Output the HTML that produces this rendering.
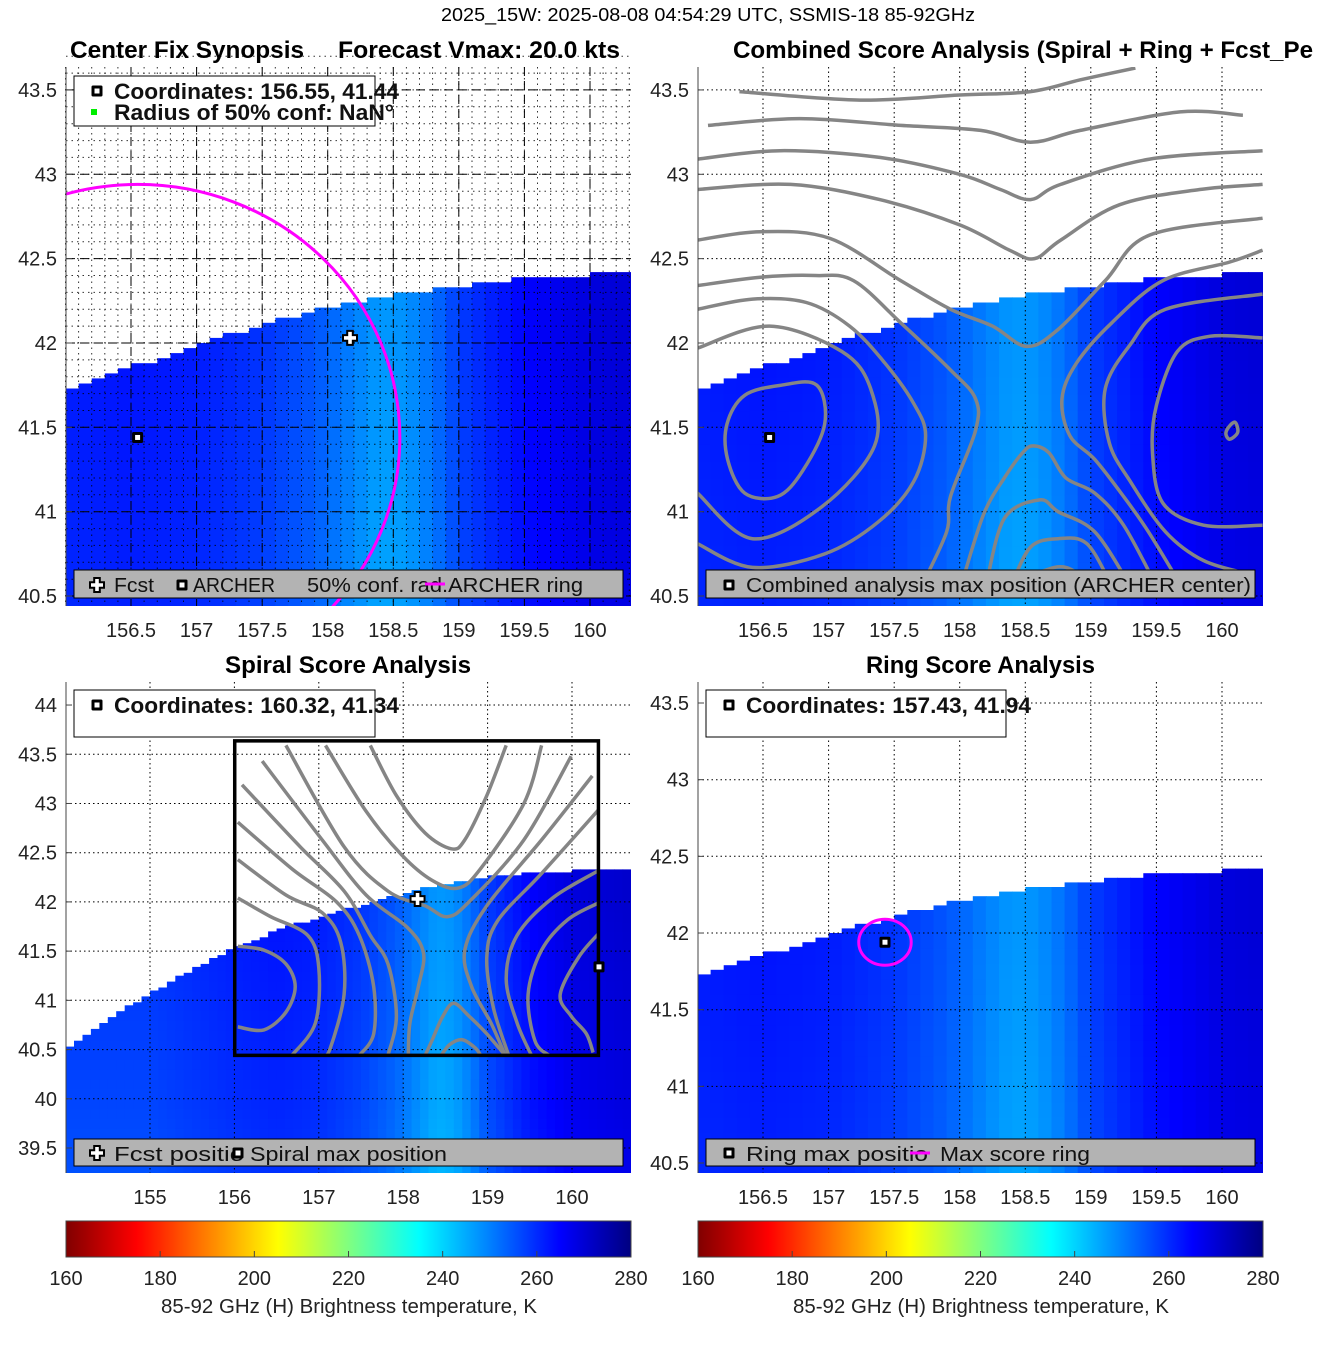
<!DOCTYPE html>
<html><head><meta charset="utf-8"><style>
html,body{margin:0;padding:0;background:#fff;}
svg{display:block;font-family:"Liberation Sans",sans-serif;}
</style></head><body>
<svg id="fig" xmlns="http://www.w3.org/2000/svg" width="1317" height="1350" viewBox="0 0 1317 1350">
<defs>
<clipPath id="clip1"><rect x="66" y="67" width="565" height="539"/></clipPath>
<clipPath id="clip2"><rect x="698" y="67" width="565" height="539"/></clipPath>
<clipPath id="clip3"><rect x="66" y="682" width="565" height="491"/></clipPath>
<clipPath id="clip4"><rect x="698" y="682" width="565" height="491"/></clipPath>
<clipPath id="clip3box"><rect x="235" y="741" width="364" height="314"/></clipPath>
<linearGradient id="cbgrad" x1="0" x2="1" y1="0" y2="0"></linearGradient>
</defs>
<rect width="1317" height="1350" fill="#fff"/>
<text x="708" y="21" text-anchor="middle" font-size="18" textLength="534" lengthAdjust="spacingAndGlyphs">2025_15W: 2025-08-08 04:54:29 UTC, SSMIS-18 85-92GHz</text>
<text x="70" y="58" font-size="24" font-weight="bold" textLength="234" lengthAdjust="spacingAndGlyphs">Center Fix Synopsis</text>
<text x="338" y="58" font-size="24" font-weight="bold" textLength="282" lengthAdjust="spacingAndGlyphs">Forecast Vmax: 20.0 kts</text>
<text x="733" y="58" font-size="24" font-weight="bold" textLength="580" lengthAdjust="spacingAndGlyphs">Combined Score Analysis (Spiral + Ring + Fcst_Pe</text>
<text x="225" y="673" font-size="24" font-weight="bold" textLength="246" lengthAdjust="spacingAndGlyphs">Spiral Score Analysis</text>
<text x="866" y="673" font-size="24" font-weight="bold" textLength="229" lengthAdjust="spacingAndGlyphs">Ring Score Analysis</text>
<g id="layer"></g>
</svg>
<script>
// ---------- data ----------
const tempLon = [154, 155, 156, 156.5, 157, 157.5, 157.9, 158.2, 158.4, 158.6, 158.8, 159, 159.5, 160, 160.7];
const tempVal = [258, 258, 261, 262, 261, 258, 254, 249, 246, 247, 251, 257, 264, 268, 270];
const latAdjLat = [39, 40, 41, 42, 43];
const latAdjVal = [-3, -1, 0, 1, 1];
const edgeLon = [154, 154.5, 155, 155.5, 156, 156.5, 157, 157.5, 158, 158.5, 159, 159.5, 160, 160.7];
const edgeLatA = [40.8, 41.05, 41.3, 41.52, 41.72, 41.87, 42.0, 42.12, 42.22, 42.3, 42.35, 42.4, 42.42, 42.43];
const edgeLatB = [40.5, 40.82, 41.08, 41.33, 41.55, 41.72, 41.86, 41.98, 42.1, 42.2, 42.27, 42.31, 42.33, 42.35];
const archer = [156.55, 41.44];
const fcst = [158.17, 42.03];
const spiralMax = [160.32, 41.34];
const ringMax = [157.43, 41.94];
const archerRingRadius = [2.0, 1.5];
const ringMaxRadius = [0.2, 0.15];
const cbTicks = [160, 180, 200, 220, 240, 260, 280];
const xTicksA = [156.5, 157, 157.5, 158, 158.5, 159, 159.5, 160];
const xTicksB = [155, 156, 157, 158, 159, 160];
const yTicksA = [40.5, 41, 41.5, 42, 42.5, 43, 43.5];
const yTicksB = [39.5, 40, 40.5, 41, 41.5, 42, 42.5, 43, 43.5, 44];

// combined-score contours (lon,lat)
const combC1 = [[156.225,41.52],[156.36,41.69],[156.64,41.75],[156.91,41.75],[156.97,41.52],[156.80,41.24],[156.61,41.09],[156.36,41.11],[156.23,41.31]];
const combC2 = [[156.0,41.11],[156.42,40.84],[156.95,41.03],[157.35,41.39],[157.32,41.73],[157.10,41.95],[156.55,42.10],[156.0,41.97]];
const combC3 = [[156.0,40.81],[156.42,40.67],[156.97,40.75],[157.38,40.94],[157.65,41.18],[157.74,41.45],[157.65,41.64],[157.43,41.88],[157.16,42.10],[156.83,42.24],[156.42,42.26],[156.0,42.20]];
const combC4 = [[156.0,42.34],[156.48,42.39],[156.90,42.40],[157.19,42.37],[157.55,42.12],[157.93,41.84],[158.12,41.67],[158.12,41.48],[157.93,41.09],[157.90,40.88],[157.71,40.56]];
const combC5 = [[156.0,42.61],[156.48,42.66],[157.01,42.62],[157.55,42.37],[157.93,42.20],[158.25,42.10],[158.51,41.98],[158.75,42.08],[159.11,42.37],[159.45,42.64],[160.31,42.74]];
const combL4 = [[156.0,42.91],[156.71,42.94],[157.39,42.85],[158.0,42.70],[158.38,42.55],[158.57,42.50],[158.77,42.61],[159.22,42.82],[159.83,42.91],[160.31,42.94]];
const combL3 = [[156.0,43.09],[156.63,43.14],[157.39,43.10],[158.0,43.0],[158.31,42.91],[158.54,42.85],[158.77,42.94],[159.45,43.09],[160.31,43.14]];
const combL2 = [[156.08,43.29],[156.78,43.33],[157.55,43.29],[158.16,43.26],[158.54,43.19],[158.92,43.26],[159.68,43.37],[160.16,43.35]];
const combL1 = [[156.32,43.49],[157.24,43.44],[158.0,43.47],[158.54,43.49],[158.92,43.56],[159.34,43.63]];
const combA1 = [[158.01,40.56],[158.18,40.98],[158.34,41.20],[158.48,41.35],[158.56,41.39],[158.68,41.35],[158.81,41.20],[159.03,41.11],[159.25,40.92],[159.50,40.56]];
const combA2 = [[158.20,40.56],[158.34,40.96],[158.61,41.07],[158.75,41.0],[159.03,40.88],[159.30,40.56]];
const combA3 = [[158.39,40.56],[158.54,40.79],[158.75,40.84],[158.97,40.81],[159.16,40.56]];
const combA4 = [[158.42,40.56],[158.61,40.64],[158.81,40.67],[159.03,40.56]];
const combRa = [[160.31,42.55],[160.06,42.48],[159.55,42.37],[159.16,42.12],[158.89,41.88],[158.78,41.67],[158.84,41.45],[159.03,41.31],[159.25,41.09],[159.44,40.88],[159.69,40.56]];
const combRb = [[160.31,42.29],[159.57,42.20],[159.30,41.99],[159.11,41.73],[159.14,41.41],[159.30,41.18],[159.57,40.88],[159.86,40.71],[160.21,40.63]];
const combRc = [[160.31,42.03],[159.91,42.04],[159.66,41.95],[159.50,41.63],[159.47,41.35],[159.55,41.05],[159.86,40.92],[160.31,40.92]];
const combRd = [[160.05,41.50],[160.10,41.53],[160.12,41.47],[160.06,41.43],[160.03,41.46]];
const combOpen = [combC2, combC3, combC4, combC5, combL4, combL3, combL2, combL1, combA1, combA2, combA3, combA4, combRa, combRb, combRc];
const combClosed = [combC1, combRd];

// spiral-score contours (lon,lat)
const spS1 = [[157.61,43.59],[157.92,43.08],[158.26,42.70],[158.57,42.54],[158.73,42.63],[158.99,43.08],[159.22,43.59]];
const spS2 = [[157.08,43.59],[157.56,42.92],[157.99,42.47],[158.34,42.22],[158.65,42.14],[158.91,42.33],[159.43,43.0],[159.64,43.59]];
const spS3 = [[156.61,43.59],[157.30,42.56],[157.82,42.11],[158.26,41.96],[158.52,41.85],[158.78,42.0],[159.43,42.63],[159.99,43.48]];
const spS4 = [[156.33,43.43],[157.04,42.63],[157.56,42.07],[158.05,41.74],[158.24,41.48],[158.18,41.14],[158.08,40.77],[158.06,40.44]];
const spS5 = [[156.09,43.19],[156.78,42.56],[157.30,42.11],[157.61,41.66],[157.82,41.37],[157.92,40.84],[157.82,40.44]];
const spS6 = [[156.04,42.81],[156.69,42.33],[157.21,42.0],[157.48,41.66],[157.65,41.14],[157.65,40.66],[157.48,40.44]];
const spS7 = [[156.04,42.43],[156.61,42.07],[157.04,41.89],[157.26,41.59],[157.30,41.06],[157.13,40.50],[157.04,40.44]];
const spS8 = [[156.04,42.04],[156.43,41.85],[156.87,41.66],[157.0,41.33],[156.96,40.77],[156.68,40.44]];
const spS9 = [[156.04,41.55],[156.35,41.51],[156.61,41.37],[156.72,41.14],[156.61,40.88],[156.35,40.70],[156.04,40.73]];
const spS11 = [[158.26,40.44],[158.34,40.59],[158.47,40.84],[158.60,40.97],[158.78,40.84],[158.99,40.66],[159.21,40.44]];
const spS12 = [[158.45,40.44],[158.55,40.55],[158.7,40.6],[158.85,40.52],[158.92,40.44]];
const spS14 = [[160.24,43.28],[159.64,42.63],[158.99,41.96],[158.73,41.51],[158.81,41.14],[159.04,40.77],[159.21,40.44]];
const spS15 = [[160.34,42.96],[159.64,42.29],[159.12,41.81],[158.99,41.44],[159.07,40.92],[159.25,40.44]];
const spS16 = [[160.34,42.33],[159.77,42.04],[159.35,41.66],[159.22,41.22],[159.35,40.77],[159.52,40.44]];
const spS17 = [[160.34,42.0],[159.95,41.82],[159.64,41.51],[159.48,41.06],[159.56,40.59],[159.73,40.44]];
const spS18 = [[160.34,41.70],[160.08,41.44],[159.86,41.06],[159.99,40.84],[160.17,40.66],[160.25,40.47]];
const spiralOpen = [spS1, spS2, spS3, spS4, spS5, spS6, spS7, spS8, spS9, spS11, spS12, spS14, spS15, spS16, spS17, spS18];

// ---------- geometry ----------
const NS = 'http://www.w3.org/2000/svg';
const layer = document.getElementById('layer');
function mk(tag, attrs, parent) {
  const e = document.createElementNS(NS, tag);
  for (const k in attrs) e.setAttribute(k, attrs[k]);
  (parent || layer).appendChild(e);
  return e;
}
const P1 = {x0:66, x1:631, y0:67, y1:606, lo0:156.004, lo1:160.313, la0:40.441, la1:43.636, clip:'clip1'};
const P2 = {x0:698, x1:1263, y0:67, y1:606, lo0:156.004, lo1:160.313, la0:40.441, la1:43.636, clip:'clip2'};
const P3 = {x0:66, x1:631, y0:682, y1:1173, lo0:154.005, lo1:160.699, la0:39.246, la1:44.234, clip:'clip3'};
const P4 = {x0:698, x1:1263, y0:682, y1:1173, lo0:156.004, lo1:160.313, la0:40.435, la1:43.637, clip:'clip4'};
function X(p, lon) { return p.x0 + (lon - p.lo0) / (p.lo1 - p.lo0) * (p.x1 - p.x0); }
function Y(p, lat) { return p.y1 - (lat - p.la0) / (p.la1 - p.la0) * (p.y1 - p.y0); }
function interp(xs, ys, x) {
  if (x <= xs[0]) return ys[0];
  for (let i = 1; i < xs.length; i++) if (x <= xs[i]) { const t = (x - xs[i-1]) / (xs[i] - xs[i-1]); return ys[i-1] + t * (ys[i] - ys[i-1]); }
  return ys[ys.length - 1];
}
function cl(v) { return Math.max(0, Math.min(1, v)); }
function jet(v) {
  const t = (280 - v) / 120;
  const r = cl(1.5 - Math.abs(4 * t - 3)), g = cl(1.5 - Math.abs(4 * t - 2)), b = cl(1.5 - Math.abs(4 * t - 1));
  return 'rgb(' + Math.round(r * 255) + ',' + Math.round(g * 255) + ',' + Math.round(b * 255) + ')';
}

function heatmap(p, edges, name) {
  const g = mk('g', {'clip-path': 'url(#' + p.clip + ')'});
  
  
  for (let i = 0; i < 68; i++) {
    const lon = 154 + i * 0.1;
    if (lon + 0.1 < p.lo0 || lon > p.lo1) continue;
    const eLat = Math.floor(interp(edgeLon, edges, lon + 0.05) / 0.03) * 0.03;
    const base = interp(tempLon, tempVal, lon + 0.05);
    for (let j = 0; j < 50; j++) {
      const lat = 39.1 + j * 0.1;
      if (lat >= eLat) break;
      if (lat + 0.1 < p.la0) continue;
      const top = Math.min(lat + 0.1, eLat);
      const v = base + interp(latAdjLat, latAdjVal, lat + 0.05);
      const x = X(p, lon), x2 = X(p, lon + 0.1), y = Y(p, top), y2 = Y(p, lat);
      const r = mk('rect', {x: x.toFixed(1), y: y.toFixed(1), width: (x2 - x + 0.6).toFixed(1), height: (y2 - y + 0.6).toFixed(1), fill: jet(v)}, g);
      
      
    }
  }
}
function smoothPath(p, pts, closed) {
  const q = pts.map(a => [X(p, a[0]), Y(p, a[1])]);
  const n = q.length;
  const get = i => closed ? q[(i + n) % n] : q[Math.max(0, Math.min(n - 1, i))];
  let d = 'M' + q[0][0].toFixed(1) + ',' + q[0][1].toFixed(1);
  const segs = closed ? n : n - 1;
  for (let i = 0; i < segs; i++) {
    const p0 = get(i - 1), p1 = get(i), p2 = get(i + 1), p3 = get(i + 2);
    const c1 = [p1[0] + (p2[0] - p0[0]) / 6, p1[1] + (p2[1] - p0[1]) / 6];
    const c2 = [p2[0] - (p3[0] - p1[0]) / 6, p2[1] - (p3[1] - p1[1]) / 6];
    d += 'C' + c1[0].toFixed(1) + ',' + c1[1].toFixed(1) + ' ' + c2[0].toFixed(1) + ',' + c2[1].toFixed(1) + ' ' + p2[0].toFixed(1) + ',' + p2[1].toFixed(1);
  }
  return d + (closed ? 'Z' : '');
}
function contours(p, openList, closedList, clipId, name) {
  const g = mk('g', {'clip-path': 'url(#' + clipId + ')', fill: 'none', stroke: '#858585', 'stroke-width': 3.5});
  
  
  openList.forEach(c => { const e = mk('path', {d: smoothPath(p, c, false)}, g);   });
  closedList.forEach(c => { const e = mk('path', {d: smoothPath(p, c, true)}, g);   });
}
function grid(p, xt, yt, dash, name, op) {
  const g = mk('g', {stroke: '#000', 'stroke-width': 1, 'stroke-dasharray': dash, fill: 'none', opacity: op || 1});
  
  
  xt.forEach(v => { const x = X(p, v).toFixed(1); mk('line', {x1: x, x2: x, y1: p.y0, y2: p.y1}, g); });
  yt.forEach(v => { const y = Y(p, v).toFixed(1); mk('line', {x1: p.x0, x2: p.x1, y1: y, y2: y}, g); });
}
function axes(p, xt, yt, xdec, pre) {
  const ax = mk('line', {x1: p.x0, x2: p.x0, y1: p.y0, y2: p.y1, stroke: '#444', 'stroke-width': 1});
  
  
  yt.forEach(v => {
    const y = Y(p, v);
    mk('line', {x1: p.x0, x2: p.x0 + 6, y1: y, y2: y, stroke: '#444'});
    const t = mk('text', {x: p.x0 - 9, y: (y + 7).toFixed(1), 'text-anchor': 'end', 'font-size': 20, fill: '#222'});
    t.textContent = String(v);
    
    
  });
  xt.forEach(v => {
    const x = X(p, v);
    const t = mk('text', {x: x.toFixed(1), y: p.y1 + 31, 'text-anchor': 'middle', 'font-size': 20, fill: '#222'});
    t.textContent = String(v);
    
    
  });
}
function archerMarker(x, y, name) {
  const g = mk('g', {});
  
  
  mk('rect', {x: x - 5.5, y: y - 5.5, width: 11, height: 11, fill: '#000', rx: 1.5}, g);
  mk('rect', {x: x - 2.5, y: y - 2.5, width: 5, height: 5, fill: '#fff'}, g);
}
function plusMarker(x, y, name) {
  const s = 2.8, L = 7;
  const d = 'M' + (x - s) + ',' + (y - L) + 'H' + (x + s) + 'V' + (y - s) + 'H' + (x + L) + 'V' + (y + s) + 'H' + (x + s) + 'V' + (y + L) + 'H' + (x - s) + 'V' + (y + s) + 'H' + (x - L) + 'V' + (y - s) + 'H' + (x - s) + 'Z';
  const e = mk('path', {d: d, fill: '#fff', stroke: '#000', 'stroke-width': 2});
  
  
}
function ellipse(p, c, r, clip, name) {
  const e = mk('ellipse', {cx: X(p, c[0]), cy: Y(p, c[1]), rx: X(p, c[0] + r[0]) - X(p, c[0]), ry: Y(p, c[1]) - Y(p, c[1] + r[1]), fill: 'none', stroke: '#ff00ff', 'stroke-width': 3, 'clip-path': 'url(#' + clip + ')'});
  
  
}
function box(x, y, w, h, fill, name) {
  const e = mk('rect', {x: x, y: y, width: w, height: h, fill: fill, stroke: '#000', 'stroke-width': 1});
  
  
}
function txt(x, y, s, size, w, bold, name) {
  const t = mk('text', {x: x, y: y, 'font-size': size, textLength: w, lengthAdjust: 'spacingAndGlyphs', fill: '#111'});
  if (bold) t.setAttribute('font-weight', 'bold');
  t.textContent = s;
  
  
}
function magLine(x1, x2, y, name) {
  const e = mk('line', {x1: x1, x2: x2, y1: y, y2: y, stroke: '#ff00ff', 'stroke-width': 3});
  
  
}

// ---------- panel 1 ----------
heatmap(P1, edgeLatA, 'panel1-heatmap');
const minorLon = [], minorLat = [];
for (let i = 0; i <= 43; i++) minorLon.push(Math.round((156.0 + i * 0.1) * 10) / 10);
for (let i = 0; i <= 32; i++) minorLat.push(Math.round((40.5 + i * 0.1) * 10) / 10);
grid(P1, minorLon, minorLat, '1.5,4', 'panel1-minor-grid', 0.8);
grid(P1, xTicksA, yTicksA, '9,5', 'panel1-major-grid');
ellipse(P1, archer, archerRingRadius, 'clip1', 'archer-ring');
archerMarker(X(P1, archer[0]), Y(P1, archer[1]), 'panel1-archer-marker');
plusMarker(X(P1, fcst[0]), Y(P1, fcst[1]), 'panel1-fcst-marker');
axes(P1, xTicksA, yTicksA, 1, 'panel1');
box(74, 76, 301, 50, '#fff', 'panel1-info-legend');
archerMarker(97, 91, 'legend-archer-icon');
const gs = mk('rect', {x: 91, y: 109, width: 6, height: 6, fill: '#00ee00'});


txt(114, 99, 'Coordinates: 156.55, 41.44', 22, 285, true, 'panel1-coordinates-text');
txt(114, 120, 'Radius of 50% conf: NaN°', 22, 280, true, 'panel1-radius-text');
box(74, 570, 549, 28, '#b3b3b3', 'panel1-legend');
plusMarker(97, 585, 'legend-fcst-icon');
txt(114, 592, 'Fcst', 20, 40, false, 'legend-fcst-label');
archerMarker(182, 585, 'legend-archer-icon2');
txt(193, 592, 'ARCHER', 20, 82, false, 'legend-archer-label');
txt(307, 592, '50% conf. rad.ARCHER ring', 20, 276, false, 'legend-ring-label');
magLine(425, 445, 584, 'legend-ring-line');

// ---------- panel 2 ----------
heatmap(P2, edgeLatA, 'panel2-heatmap');
grid(P2, xTicksA, yTicksA, '1.5,3', 'panel2-grid');
contours(P2, combOpen, combClosed, 'clip2', 'panel2-contours');
archerMarker(X(P2, archer[0]), Y(P2, archer[1]), 'panel2-combined-max-marker');
axes(P2, xTicksA, yTicksA, 1, 'panel2');
box(706, 570, 549, 28, '#b3b3b3', 'panel2-legend');
archerMarker(729, 585, 'legend-combined-icon');
txt(746, 592, 'Combined analysis max position (ARCHER center)', 20, 505, false, 'legend-combined-label');

// ---------- panel 3 ----------
heatmap(P3, edgeLatB, 'panel3-heatmap');
grid(P3, xTicksB, yTicksB, '1.5,3', 'panel3-grid');
contours(P3, spiralOpen, [], 'clip3box', 'panel3-contours');
const bx = mk('rect', {x: X(P3, P2.lo0), y: Y(P3, P2.la1), width: X(P3, P2.lo1) - X(P3, P2.lo0), height: Y(P3, P2.la0) - Y(P3, P2.la1), fill: 'none', stroke: '#000', 'stroke-width': 3.5});


plusMarker(X(P3, fcst[0]), Y(P3, fcst[1]), 'panel3-fcst-marker');
archerMarker(X(P3, spiralMax[0]), Y(P3, spiralMax[1]), 'panel3-spiral-max-marker');
axes(P3, xTicksB, yTicksB, 0, 'panel3');
box(74, 690, 301, 47, '#fff', 'panel3-info-legend');
archerMarker(97, 705, 'legend-spiral-icon');
txt(114, 713, 'Coordinates: 160.32, 41.34', 22, 285, true, 'panel3-coordinates-text');
box(74, 1139, 549, 27, '#b3b3b3', 'panel3-legend');
plusMarker(97, 1153, 'legend-fcst-position-icon');
txt(114, 1161, 'Fcst positio', 20, 130, false, 'legend-fcst-position-label');
archerMarker(238, 1153, 'legend-spiral-max-icon');
txt(250, 1161, 'Spiral max position', 20, 197, false, 'legend-spiral-max-label');

// ---------- panel 4 ----------
heatmap(P4, edgeLatA, 'panel4-heatmap');
grid(P4, xTicksA, yTicksA, '1.5,3', 'panel4-grid');
ellipse(P4, ringMax, ringMaxRadius, 'clip4', 'max-score-ring');
archerMarker(X(P4, ringMax[0]), Y(P4, ringMax[1]), 'panel4-ring-max-marker');
axes(P4, xTicksA, yTicksA, 1, 'panel4');
box(706, 690, 300, 47, '#fff', 'panel4-info-legend');
archerMarker(729, 705, 'legend-ring-icon');
txt(746, 713, 'Coordinates: 157.43, 41.94', 22, 285, true, 'panel4-coordinates-text');
box(706, 1139, 549, 27, '#b3b3b3', 'panel4-legend');
archerMarker(729, 1153, 'legend-ring-max-icon');
txt(746, 1161, 'Ring max positio', 20, 182, false, 'legend-ring-max-label');
magLine(910, 930, 1153, 'legend-max-ring-line');
txt(940, 1161, 'Max score ring', 20, 150, false, 'legend-max-ring-label');

// ---------- colorbars ----------
const grad = document.getElementById('cbgrad');
for (let v = 160; v <= 280; v += 5) mk('stop', {offset: ((v - 160) / 120).toFixed(3), 'stop-color': jet(v)}, grad);
[66, 698].forEach((cx, k) => {
  const r = mk('rect', {x: cx, y: 1221, width: 565, height: 36, fill: 'url(#cbgrad)', stroke: '#444', 'stroke-width': 1});
  
  
  cbTicks.forEach(v => {
    const x = cx + (v - 160) / 120 * 565;
    mk('line', {x1: x, x2: x, y1: 1251, y2: 1257, stroke: '#444'});
    const t = mk('text', {x: x.toFixed(1), y: 1285, 'text-anchor': 'middle', 'font-size': 20, fill: '#222'});
    t.textContent = String(v);
    
    
  });
  const t = mk('text', {x: cx + 95, y: 1313, 'font-size': 20, textLength: 376, lengthAdjust: 'spacingAndGlyphs', fill: '#222'});
  t.textContent = '85-92 GHz (H) Brightness temperature, K';
  
  
});
</script>
</body></html>
